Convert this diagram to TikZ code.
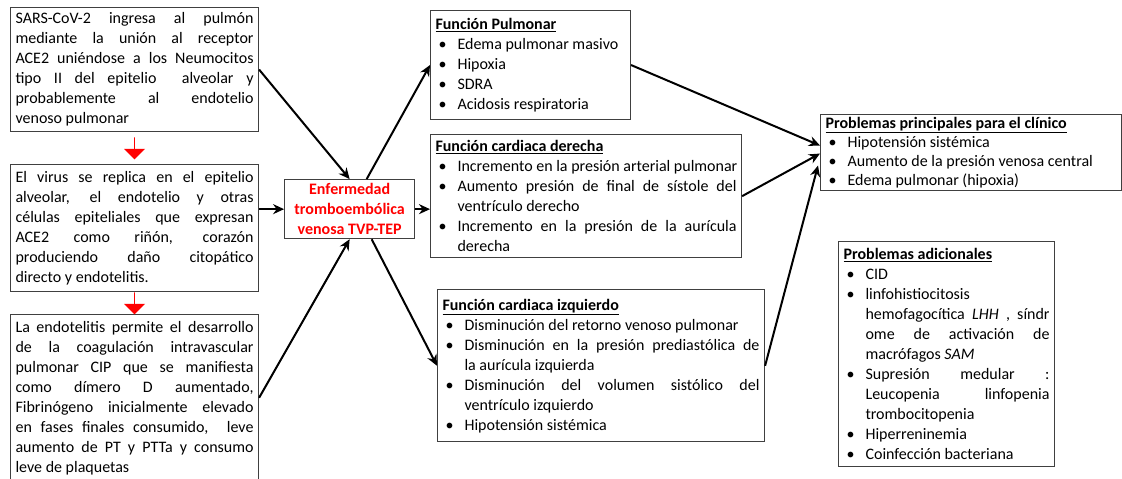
\documentclass[tikz,border=0pt]{standalone}
\usepackage{fontspec}
\setmainfont{Carlito}
\usetikzlibrary{arrows.meta,shapes,positioning,calc}

\newcommand{\jl}[1]{\makebox[\linewidth][s]{#1}}
\newcommand{\bitem}[1]{\makebox[22pt][l]{\hspace{3pt}\textbullet}\mbox{#1}}
\newcommand{\bitemj}[1]{\makebox[22pt][l]{\hspace{3pt}\textbullet}\makebox[\dimexpr\linewidth-22pt\relax][s]{#1}}
\newcommand{\bcont}[1]{\hspace*{22pt}#1}
\newcommand{\btitle}[1]{\textbf{\underline{#1}}}

\begin{document}
\begin{tikzpicture}[x=1pt,y=1pt]

	\tikzstyle{txtbox}=[rectangle,draw=black!75,line width=1.1pt,
		align=flush left,inner xsep=5pt,inner ysep=2pt,
		font=\fontsize{16}{20}\selectfont]
	\tikzstyle{disease}=[txtbox,align=center,text=red,
		minimum width=130pt,minimum height=59pt,
		font=\bfseries\fontsize{16}{20}\selectfont]
	\tikzstyle{redarrow}=[single arrow,fill=red,draw=none,
		shape border rotate=270,inner sep=0pt,
		minimum height=22pt,minimum width=21pt,
		single arrow head extend=5pt]
	\tikzstyle{arrow}=[-{Stealth[length=11pt,width=10pt]},line width=2pt]

	\useasboundingbox (0,0) rectangle (1122,-479);

	\node[txtbox,text width=238pt,minimum height=124pt,anchor=north west](sars) at (10,-7){\jl{SARS-CoV-2 ingresa al pulmón}\\ \jl{mediante la unión al receptor}\\ \jl{ACE2 uniéndose a los Neumocitos}\\ \jl{tipo II del epitelio \ alveolar y}\\ \jl{probablemente al endotelio}\\ venoso pulmonar};
	\node[txtbox,text width=238pt,minimum height=127pt,below right=32pt and 0pt of sars.south west](virus){\jl{El virus se replica en el epitelio}\\ \jl{alveolar, el endotelio y otras}\\ \jl{células epiteliales que expresan}\\ \jl{ACE2 como riñón, corazón}\\ \jl{produciendo daño citopático}\\ directo y endotelitis.};
	\node[txtbox,text width=238pt,minimum height=166pt,below right=22pt and 0pt of virus.south west](endo){\jl{La endotelitis permite el desarrollo}\\ \jl{de la coagulación intravascular}\\ \jl{pulmonar CIP que se manifiesta}\\ \jl{como dímero D aumentado,}\\ \jl{Fibrinógeno inicialmente elevado}\\ \jl{en fases finales consumido, \ leve}\\ \jl{aumento de PT y PTTa y consumo}\\ leve de plaquetas};
	\node[redarrow](down1) at ($(sars.south)!0.5!(virus.north)$){};
	\node[redarrow](down2) at ($(virus.south)!0.5!(endo.north)$){};

	\node[disease,right=25pt of virus,yshift=19pt](tve){Enfermedad\\ tromboembólica\\ venosa TVP-TEP};

	\node[txtbox,text width=190pt,minimum height=109pt,anchor=north west](pul) at (430,-10){\btitle{Función Pulmonar}\\ \bitem{Edema pulmonar masivo}\\ \bitem{Hipoxia}\\ \bitem{SDRA}\\ \bitem{Acidosis respiratoria}};
	\node[txtbox,text width=301pt,minimum height=123pt,below right=14pt and 0pt of pul.south west](der){\btitle{Función cardiaca derecha}\\ \bitem{Incremento en la presión arterial pulmonar}\\ \bitemj{Aumento presión de final de sístole del}\\ \bcont{ventrículo derecho}\\ \bitemj{Incremento en la presión de la aurícula}\\ \bcont{derecha}};
	\node[txtbox,text width=317pt,minimum height=152pt,below right=31pt and 7pt of der.south west](izq){\btitle{Función cardiaca izquierdo}\\ \bitem{Disminución del retorno venoso pulmonar}\\ \bitemj{Disminución en la presión prediastólica de}\\ \bcont{la aurícula izquierda}\\ \bitemj{Disminución del volumen sistólico del}\\ \bcont{ventrículo izquierdo}\\ \bitem{Hipotensión sistémica}};

	\node[txtbox,text width=291pt,minimum height=76pt,inner ysep=0pt,font=\fontsize{16}{19}\selectfont,anchor=north west](princ) at (820,-114){\btitle{Problemas principales para el clínico}\\ \bitem{Hipotensión sistémica}\\ \bitem{Aumento de la presión venosa central}\\ \bitem{Edema pulmonar (hipoxia)}};
	\node[txtbox,text width=206pt,minimum height=225pt,below right=50pt and 18pt of princ.south west](adic){\btitle{Problemas adicionales}\\ \bitem{CID}\\ \bitem{linfohistiocitosis}\\ \bcont{\makebox[\dimexpr\linewidth-22pt\relax][s]{hemofagocítica \textit{LHH} , síndr}}\\ \bcont{\makebox[\dimexpr\linewidth-22pt\relax][s]{ome de activación de}}\\ \bcont{macrófagos \textit{SAM}}\\ \bitemj{Supresión medular :}\\ \bcont{\makebox[\dimexpr\linewidth-22pt\relax][s]{Leucopenia linfopenia}}\\ \bcont{trombocitopenia}\\ \bitem{Hiperreninemia}\\ \bitem{Coinfección bacteriana}};

	\coordinate (princin1) at ($(princ.west)+(0,7)$);
	\coordinate (princin2) at ($(princ.west)+(0,-1)$);
	\coordinate (princin3) at ($(princ.west)+(-2,-13)$);

	\draw[arrow] (sars.east) -- (tve.north);
	\draw[arrow] (virus.east|-tve.west) -- (tve.west);
	\draw[arrow] (endo.east) -- (tve.south);
	\draw[arrow] ($(tve.north)+(17,0)$) -- (pul.west);
	\draw[arrow] (tve.east) -- (tve.east-|der.west);
	\draw[arrow] ($(tve.south)+(22,0)$) -- (izq.west);
	\draw[arrow] (pul.east) -- (princin1);
	\draw[arrow] (der.east) -- (princin2);
	\draw[arrow] (izq.east) -- (princin3);

\end{tikzpicture}
\end{document}
